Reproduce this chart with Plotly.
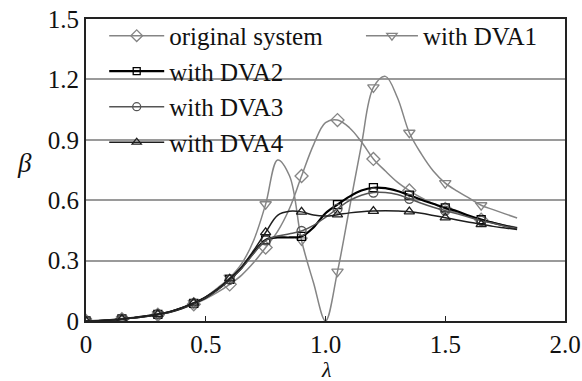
import plotly.graph_objects as go

lam = [0.00, 0.05, 0.10, 0.15, 0.20, 0.25, 0.30, 0.35, 0.40, 0.45, 0.50, 0.55,
       0.60, 0.65, 0.70, 0.75, 0.80, 0.85, 0.90, 0.95, 1.00, 1.05, 1.10, 1.15,
       1.20, 1.25, 1.30, 1.35, 1.40, 1.45, 1.50, 1.55, 1.60, 1.65, 1.70, 1.75, 1.80]

original = [0, 0.001, 0.004, 0.009, 0.015, 0.022, 0.031, 0.043, 0.061, 0.083, 0.110, 0.143,
            0.182, 0.228, 0.290, 0.365, 0.445, 0.560, 0.720, 0.875, 0.985, 0.998, 0.960, 0.890,
            0.805, 0.745, 0.690, 0.648, 0.612, 0.582, 0.557, 0.537, 0.519, 0.503, 0.489, 0.476, 0.464]
dva1 = [0, 0.001, 0.004, 0.010, 0.016, 0.024, 0.034, 0.047, 0.066, 0.090, 0.120, 0.165,
        0.215, 0.285, 0.400, 0.580, 0.800, 0.720, 0.400, 0.190, 0.000, 0.245, 0.560, 0.875,
        1.160, 1.215, 1.110, 0.935, 0.830, 0.745, 0.685, 0.645, 0.610, 0.575, 0.553, 0.532, 0.512]
dva2 = [0, 0.001, 0.004, 0.010, 0.016, 0.024, 0.033, 0.045, 0.064, 0.088, 0.117, 0.157,
        0.207, 0.265, 0.340, 0.403, 0.415, 0.415, 0.420, 0.465, 0.535, 0.578, 0.618, 0.648,
        0.662, 0.660, 0.646, 0.625, 0.602, 0.582, 0.562, 0.545, 0.523, 0.504, 0.488, 0.473, 0.460]
dva3 = [0, 0.001, 0.004, 0.010, 0.016, 0.024, 0.033, 0.045, 0.064, 0.088, 0.117, 0.157,
        0.205, 0.262, 0.335, 0.400, 0.422, 0.433, 0.447, 0.475, 0.515, 0.558, 0.598, 0.625,
        0.638, 0.638, 0.628, 0.607, 0.585, 0.565, 0.548, 0.532, 0.515, 0.498, 0.485, 0.471, 0.459]
dva4 = [0, 0.001, 0.004, 0.010, 0.016, 0.024, 0.033, 0.046, 0.065, 0.090, 0.120, 0.160,
        0.210, 0.270, 0.350, 0.440, 0.525, 0.545, 0.542, 0.526, 0.521, 0.528, 0.537, 0.543,
        0.546, 0.547, 0.546, 0.543, 0.535, 0.524, 0.513, 0.502, 0.491, 0.480, 0.470, 0.462, 0.454]

names = ["original system", "with DVA1", "with DVA2", "with DVA3", "with DVA4"]
series = [original, dva1, dva2, dva3, dva4]
colors = ["#858585", "#858585", "#000000", "#555555", "#1e1e1e"]
widths = [1.5, 1.5, 2.2, 1.5, 1.5]
symbols = ["diamond-open", "triangle-down-open", "square-open", "circle-open", "triangle-up-open"]
msizes = [10, 10, 8, 9, 9]
legends = ["legend", "legend2", "legend", "legend", "legend"]

xticks = [0, 0.5, 1.0, 1.5, 2.0]
xticklabels = ["0", "0.5", "1.0", "1.5", "2.0"]
yticks = [0, 0.3, 0.6, 0.9, 1.2, 1.5]
yticklabels = ["0", "0.3", "0.6", "0.9", "1.2", "1.5"]

FONT = "Liberation Serif"

fig = go.Figure()
step = 3
for name, ys, c, w, sym, ms, lg in zip(names, series, colors, widths, symbols, msizes, legends):
    fig.add_trace(go.Scatter(x=lam, y=ys, mode="lines",
                             line=dict(color=c, width=w, shape="spline", smoothing=1.0),
                             showlegend=False, hoverinfo="skip"))
    fig.add_trace(go.Scatter(x=lam[:34:step], y=ys[:34:step], mode="markers",
                             marker=dict(symbol=sym, size=ms, color=c, line=dict(color=c, width=1.3)),
                             showlegend=False, hoverinfo="skip"))
    fig.add_trace(go.Scatter(x=[None], y=[None], mode="lines+markers", name=name,
                             line=dict(color=c, width=w),
                             marker=dict(symbol=sym, size=ms - 1, color=c, line=dict(color=c, width=1.3)),
                             legend=lg))

fig.update_layout(
    width=582, height=381,
    margin=dict(l=86, r=17, t=19, b=60, autoexpand=False),
    paper_bgcolor="white", plot_bgcolor="white",
    font=dict(family=FONT, size=25, color="#111111"),
    legend=dict(x=0.038, y=1.02, xanchor="left", yanchor="top", bgcolor="rgba(0,0,0,0)",
                font=dict(family=FONT, size=25, color="#111111"), itemwidth=55,
                tracegroupgap=0),
    legend2=dict(x=0.574, y=1.02, xanchor="left", yanchor="top", bgcolor="rgba(0,0,0,0)",
                 font=dict(family=FONT, size=25, color="#111111"), itemwidth=52),
    xaxis=dict(range=[0, 2.0], tickvals=xticks, ticktext=xticklabels, automargin=False,
               showgrid=False, zeroline=False, showline=True, linecolor="#222222", linewidth=2,
               mirror=True, ticks="inside", ticklen=5, tickcolor="#222222",
               tickfont=dict(family=FONT, size=25, color="#111111")),
    yaxis=dict(range=[0, 1.5], tickvals=yticks, ticktext=yticklabels, automargin=False,
               showgrid=True, gridcolor="#9a9a9a", gridwidth=1.5, zeroline=False,
               showline=True, linecolor="#222222", linewidth=2, mirror=True, ticks="",
               tickfont=dict(family=FONT, size=25, color="#111111")),
    annotations=[
        dict(text="<i>β</i>", xref="paper", yref="paper", x=-0.129, y=0.523,
             xanchor="center", yanchor="middle",
             showarrow=False, font=dict(family=FONT, size=27, color="#111111")),
        dict(text="<i>λ</i>", xref="paper", yref="paper", x=0.502, y=-0.1987,
             xanchor="center", yanchor="bottom", height=20, valign="middle",
             showarrow=False, font=dict(family=FONT, size=22, color="#111111")),
    ],
)

fig.write_html("out.html")
